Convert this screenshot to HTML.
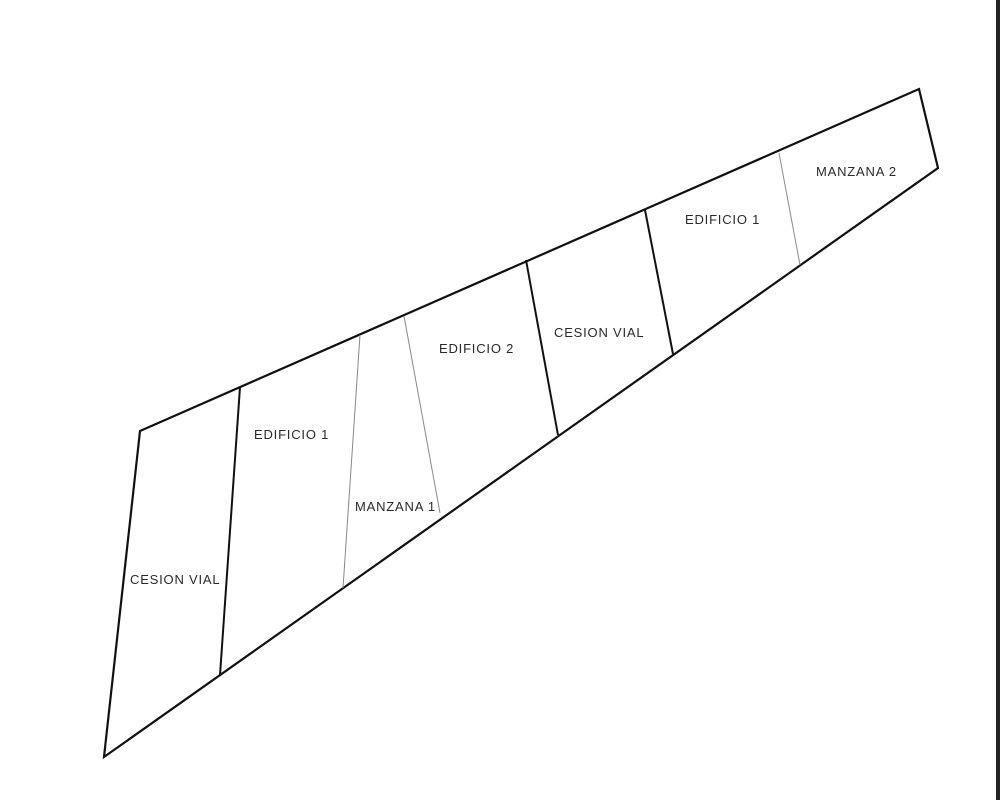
<!DOCTYPE html>
<html><head><meta charset="utf-8"><style>
html,body{margin:0;padding:0;background:#fff;}
svg{display:block}
text{font-family:"Liberation Sans",sans-serif;font-size:13px;fill:#2a2a2a;letter-spacing:0.8px}
</style></head><body>
<svg width="1000" height="800" viewBox="0 0 1000 800">
<rect x="0" y="0" width="1000" height="800" fill="#fff"/>
<rect x="996" y="0" width="4" height="800" fill="#222"/>
<polygon points="140,431 919,89 938,168 104,757" fill="none" stroke="#111" stroke-width="2.2" stroke-linejoin="miter"/>
<line x1="240" y1="387" x2="220" y2="675" stroke="#111" stroke-width="2"/>
<line x1="526" y1="260" x2="558" y2="435" stroke="#111" stroke-width="2"/>
<line x1="645" y1="210" x2="673" y2="354" stroke="#111" stroke-width="2"/>
<line x1="360" y1="335" x2="343" y2="588" stroke="#888" stroke-width="1"/>
<line x1="404" y1="316" x2="440" y2="513" stroke="#888" stroke-width="1"/>
<line x1="779" y1="153" x2="800" y2="265" stroke="#888" stroke-width="1"/>
<text x="130" y="584">CESION VIAL</text>
<text x="254" y="439">EDIFICIO 1</text>
<text x="355" y="511">MANZANA 1</text>
<text x="439" y="353">EDIFICIO 2</text>
<text x="554" y="337">CESION VIAL</text>
<text x="685" y="224">EDIFICIO 1</text>
<text x="816" y="176">MANZANA 2</text>
</svg>
</body></html>
